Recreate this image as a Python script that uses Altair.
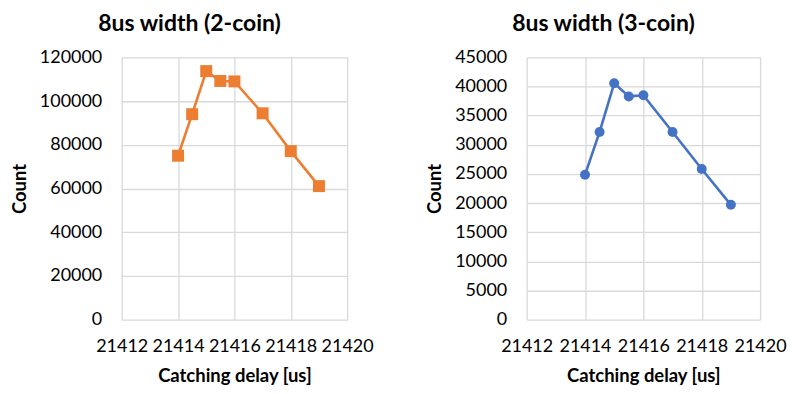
import altair as alt
import pandas as pd

delay = [21414, 21414.5, 21415, 21415.5, 21416, 21417, 21418, 21419]
count_2coin = [75000, 94000, 113700, 109200, 109000, 94400, 77100, 61100]
count_3coin = [24850, 32200, 40550, 38300, 38500, 32200, 25850, 19700]

x_ticks = [21412, 21414, 21416, 21418, 21420]
y_ticks_2 = [0, 20000, 40000, 60000, 80000, 100000, 120000]
y_ticks_3 = [0, 5000, 10000, 15000, 20000, 25000, 30000, 35000, 40000, 45000]

FONT = "Lato"


def panel(values, title, color, shape, size, yticks, ymax, width, dx):
    df = pd.DataFrame({"delay": delay, "count": values})
    x = alt.X(
        "delay:Q",
        scale=alt.Scale(domain=[21412, 21420], nice=False, zero=False),
        axis=alt.Axis(
            values=x_ticks, format="d", title="Catching delay [us]",
            labelFlush=False, labelOverlap=False, labelPadding=18,
            titlePadding=11, ticks=False, domain=False,
        ),
    )
    y = alt.Y(
        "count:Q",
        scale=alt.Scale(domain=[0, ymax], nice=False),
        axis=alt.Axis(
            values=yticks, format="d", title="Count",
            ticks=False, domain=False, labelPadding=20, titlePadding=10,
        ),
    )
    line = alt.Chart(df).mark_line(color=color, strokeWidth=2.6).encode(x=x, y=y)
    pts = alt.Chart(df).mark_point(
        shape=shape, filled=True, size=size, color=color, opacity=1
    ).encode(x=x, y=y)
    return alt.layer(line, pts).properties(
        width=width, height=263,
        title=alt.Title(title, font=FONT, fontSize=23, fontWeight="bold",
                        color="#000000", offset=12, dx=dx),
    )


left = panel(count_2coin, "8us width (2-coin)", "#ED7D31", "square", 144,
             y_ticks_2, 120000, 226, -45)
right = panel(count_3coin, "8us width (3-coin)", "#4472C4", "circle", 100,
              y_ticks_3, 45000, 234, -40)

chart = alt.hconcat(left, right, spacing=51).properties(
    padding={"left": 2, "top": 5, "right": 0, "bottom": 0}
).configure_view(stroke=None).configure_axis(
    labelFont=FONT, labelFontSize=18, labelColor="#000000",
    titleFont=FONT, titleFontSize=18.5, titleFontWeight="bold", titleColor="#000000",
    gridColor="#d9d9d9", gridWidth=1.3,
)

chart.save("out.html", embed_options={"renderer": "svg", "actions": False})
